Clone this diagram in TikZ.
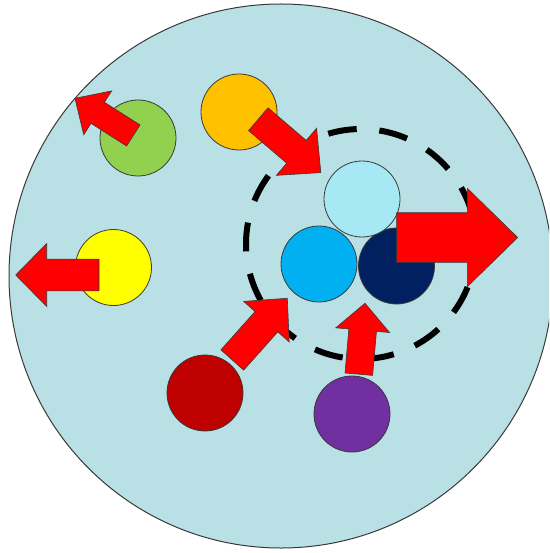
\documentclass[tikz,border=0pt]{standalone}
\usetikzlibrary{calc}

\definecolor{cellfill}{HTML}{B9E0E4}
\definecolor{edgegrey}{HTML}{3A3A3A}
\definecolor{cgreen}{HTML}{92D050}
\definecolor{corange}{HTML}{FFC000}
\definecolor{cyellow}{HTML}{FFFF00}
\definecolor{cpale}{HTML}{A6E8F4}
\definecolor{cblue}{HTML}{00B0F0}
\definecolor{cnavy}{HTML}{002060}
\definecolor{cdarkred}{HTML}{BE0000}
\definecolor{cpurple}{HTML}{7030A0}
\definecolor{cred}{HTML}{FF0000}

\tikzset{
  ball/.style={circle, draw=edgegrey, line width=0.8pt, minimum size=76pt, inner sep=0pt},
  redarrow/.style={fill=cred, draw=edgegrey, line width=0.6pt, line join=miter},
  dashring/.style={draw=black, line width=6pt, line cap=butt},
}

% block arrow: #1 tail point, #2 direction (deg), #3 total length,
% #4 shaft width, #5 head width, #6 head length
\newcommand{\blockarrow}[6]{%
  \begin{scope}[shift={(#1)}, rotate=#2]
    \draw[redarrow] (0,-#4/2) -- ({#3-#6},-#4/2) -- ({#3-#6},-#5/2) -- (#3,0)
      -- ({#3-#6},#5/2) -- ({#3-#6},#4/2) -- (0,#4/2) -- cycle;
  \end{scope}}

\begin{document}
\begin{tikzpicture}[x=1pt, y=1pt]
  \clip (0,0) rectangle (549,-553);
  \fill[white] (0,0) rectangle (549,-553);

  % the cell
  \node[circle, fill=cellfill, draw=edgegrey, line width=1pt,
        minimum size=544pt, inner sep=0pt] (cell) at (281,-276) {};

  % dashed ring around the cluster
  \coordinate (dc) at (361,-244);
  \foreach \k in {0,...,13} {
    \pgfmathsetmacro{\a}{15+25.714*\k}
    \draw[dashring] ($(dc)+(\a:115)$) arc[start angle=\a, delta angle=14.4, radius=115];
  }

  % particles
  \node[ball, fill=cgreen]   (green)  at (138,-138) {};
  \node[ball, fill=corange]  (orange) at (239,-112) {};
  \node[ball, fill=cyellow]  (yellow) at (113.5,-267.5) {};
  \node[ball, fill=cblue]    (blue)   at (319,-264) {};
  \node[ball, fill=cnavy]    (navy)   at (396.5,-266) {};
  \node[ball, fill=cpale]    (pale)   at (362,-199) {};
  \node[ball, fill=cdarkred] (darkred) at (205,-393) {};
  \node[ball, fill=cpurple]  (purple) at (352,-414) {};

  % arrow tails
  \coordinate (gtail) at (133.3,-135.5);
  \coordinate (otail) at (258.3,-119.2);
  \coordinate (ytail) at (99,-275);
  \coordinate (ntail) at (396.7,-237.5);
  \coordinate (rtail) at (232.3,-360);
  \coordinate (ptail) at (358.8,-374.2);

  % motion arrows
  \blockarrow{gtail}{147.5}{69.2}{25}{52}{27}
  \blockarrow{otail}{-40.5}{82.2}{30}{62}{32}
  \blockarrow{ytail}{180}{83.3}{31.7}{63}{31}
  \blockarrow{ntail}{0}{121}{49.6}{98.4}{50.4}
  \blockarrow{rtail}{48.3}{82.7}{30.5}{61}{31.4}
  \blockarrow{ptail}{85}{71.2}{27.7}{54}{27}
\end{tikzpicture}
\end{document}
